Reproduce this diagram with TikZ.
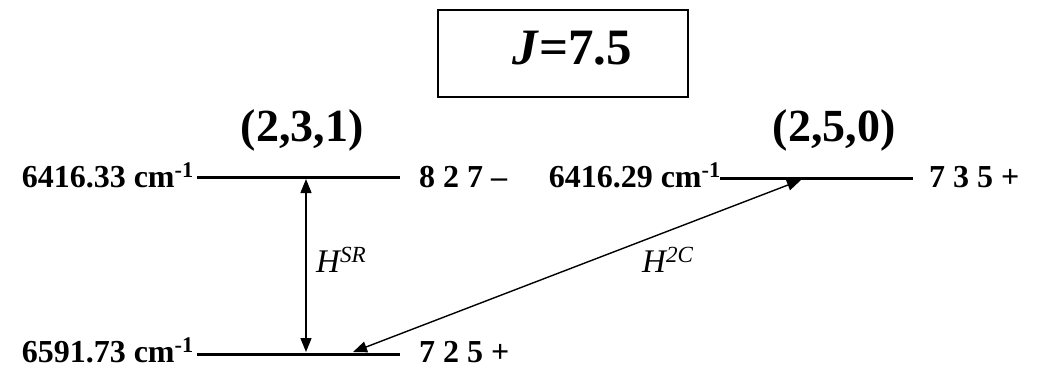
\documentclass[tikz,border=0pt]{standalone}
\usepackage{fontspec}
\setmainfont{Liberation Serif}
\usetikzlibrary{arrows.meta}
\tikzset{
  lvl/.style={line width=3pt},
  lvltxt/.style={inner sep=0pt, font=\fontsize{32}{32}\selectfont\bfseries},
  statetxt/.style={inner sep=0pt, font=\fontsize{46}{46}\selectfont\bfseries},
  htxt/.style={inner sep=0pt, font=\fontsize{33}{33}\selectfont\itshape},
  coup/.style={line width=1.4pt, {Triangle[length=14pt,width=11pt]}-{Triangle[length=14pt,width=11pt]}}
}
\begin{document}
\begin{tikzpicture}[x=1pt,y=-1pt]
\useasboundingbox (0,0) rectangle (1057,365);
% J box
\node[draw, line width=1.8pt, minimum width=250pt, minimum height=87pt, inner sep=0pt] (jbox) at (563,53.5) {};
\node[inner sep=0pt, anchor=base, font=\fontsize{51}{51}\selectfont\bfseries] (jtxt) at (572,64) {\textit{J}=7.5};
% state labels
\node[statetxt, anchor=base] (s231) at (302,141) {(2,3,1)};
\node[statetxt, anchor=base] (s250) at (834,141) {(2,5,0)};
% level end points
\coordinate (a1) at (197,177);
\coordinate (a2) at (400,177);
\coordinate (b1) at (720,178);
\coordinate (b2) at (913,178);
\coordinate (c1) at (197,354);
\coordinate (c2) at (400,354);
\draw[lvl] (a1) -- (a2);
\draw[lvl] (b1) -- (b2);
\draw[lvl] (c1) -- (c2);
% level labels
\node[lvltxt, anchor=base east] (la) at (194,187) {6416.33 cm\textsuperscript{-1}};
\node[lvltxt, anchor=base west] (ra) at (419,187) {8 2 7 --};
\node[lvltxt, anchor=base east] (lb) at (721,187) {6416.29 cm\textsuperscript{-1}};
\node[lvltxt, anchor=base west] (rb) at (929,187) {7 3 5 +};
\node[lvltxt, anchor=base east] (lc) at (194,362) {6591.73 cm\textsuperscript{-1}};
\node[lvltxt, anchor=base west] (rc) at (419,362) {7 2 5 +};
% couplings
\coordinate (v1) at (306,179);
\coordinate (v2) at (306,352);
\coordinate (d1) at (353,352);
\coordinate (d2) at (801,180);
\draw[coup] (v1) -- (v2);
\draw[coup] (d1) -- (d2);
\node[htxt, anchor=base west] (hsr) at (316,272) {H\textsuperscript{SR}};
\node[htxt, anchor=base west] (h2c) at (642,272) {H\textsuperscript{2C}};
\end{tikzpicture}
\end{document}
